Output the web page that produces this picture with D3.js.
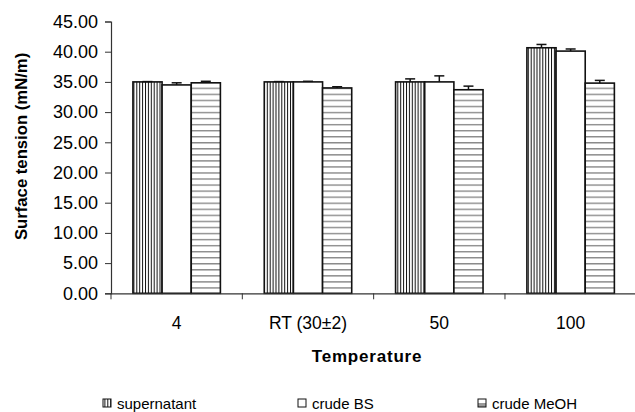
<!DOCTYPE html>
<html>
<head>
<meta charset="utf-8">
<script src="https://cdn.jsdelivr.net/npm/d3@7"></script>
<style>
  html, body { margin: 0; padding: 0; background: #fff; }
  svg { display: block; }
  text { font-family: "Liberation Sans", Arial, sans-serif; fill: #000; }
</style>
</head>
<body>
<svg id="chart" width="635" height="412"></svg>
<script>
const categories = ["4", "RT (30\u00b12)", "50", "100"];
const seriesNames = ["supernatant", "crude BS", "crude MeOH"];
const supernatant = [35.0, 35.0, 35.0, 40.65];
const crudeBS = [34.5, 35.0, 35.0, 40.1];
const crudeMeOH = [34.85, 34.0, 33.7, 34.8];
const supernatantErr = [0.05, 0.05, 0.5, 0.55];
const crudeBSErr = [0.35, 0.1, 1.0, 0.35];
const crudeMeOHErr = [0.25, 0.2, 0.6, 0.45];
const yTicks = [0, 5, 10, 15, 20, 25, 30, 35, 40, 45];

const values = [supernatant, crudeBS, crudeMeOH];
const errs = [supernatantErr, crudeBSErr, crudeMeOHErr];

const svg = d3.select("#chart");
const mLeft = 111, mRight = 636.3, mTop = 21.5, mBottom = 293.3;

const x = d3.scaleBand().domain(categories).range([mLeft, mRight]).padding(0);
const groupFrac = 0.666;
const xs = d3.scaleBand().domain(seriesNames)
  .range([x.bandwidth() * (1 - groupFrac) / 2, x.bandwidth() * (1 + groupFrac) / 2]).padding(0);
const y = d3.scaleLinear().domain([0, 45]).range([mBottom, mTop]);

// patterns
const defs = svg.append("defs");
const pv = defs.append("pattern").attr("id", "pv").attr("patternUnits", "userSpaceOnUse")
  .attr("width", 2.9).attr("height", 10);
pv.append("rect").attr("width", 2.9).attr("height", 10).attr("fill", "#fff");
pv.append("rect").attr("x", 0).attr("width", 1).attr("height", 10).attr("fill", "#111");
const ph = defs.append("pattern").attr("id", "ph").attr("patternUnits", "userSpaceOnUse")
  .attr("width", 10).attr("height", 6.05).attr("y", mBottom);
ph.append("rect").attr("width", 10).attr("height", 6.05).attr("fill", "#fff");
ph.append("rect").attr("y", 0).attr("width", 10).attr("height", 1.4).attr("fill", "#8a8a8a");
const phl = defs.append("pattern").attr("id", "phl").attr("patternUnits", "userSpaceOnUse")
  .attr("width", 10).attr("height", 8).attr("y", 399);
phl.append("rect").attr("width", 10).attr("height", 8).attr("fill", "#fff");
phl.append("rect").attr("y", 4).attr("width", 10).attr("height", 4).attr("fill", "#999");
const fills = ["url(#pv)", "#fff", "url(#ph)"];
const legFills = ["url(#pv)", "#fff", "url(#phl)"];

// axes
const yAxis = d3.axisLeft(y).tickValues(yTicks).tickFormat(d3.format(".2f")).tickSize(6).tickPadding(7);
const gy = svg.append("g").attr("transform", `translate(${mLeft},0)`).call(yAxis);
gy.select(".domain").attr("stroke", "#333").attr("stroke-width", 1.2);
gy.selectAll(".tick line").attr("stroke", "#333");
gy.selectAll("text").style("font-size", "18px").attr("fill", "#000");

// bars
seriesNames.forEach((s, si) => {
  const g = svg.append("g");
  g.selectAll("rect").data(categories).join("rect")
    .attr("x", d => x(d) + xs(s))
    .attr("y", (d, i) => y(values[si][i]))
    .attr("width", xs.bandwidth())
    .attr("height", (d, i) => mBottom - y(values[si][i]))
    .attr("fill", fills[si])
    .attr("stroke", "#111").attr("stroke-width", 1.6);
  const eg = svg.append("g").attr("stroke", "#111").attr("stroke-width", 1.5);
  categories.forEach((c, i) => {
    const cx = x(c) + xs(s) + xs.bandwidth() / 2;
    const v = values[si][i], e = errs[si][i];
    eg.append("line").attr("x1", cx).attr("x2", cx).attr("y1", y(v)).attr("y2", y(v + e));
    eg.append("line").attr("x1", cx - 5).attr("x2", cx + 5).attr("y1", y(v + e)).attr("y2", y(v + e));
  });
});

// x axis
const xAxis = d3.axisBottom(x).tickSize(0).tickPadding(23);
const gx = svg.append("g").attr("transform", `translate(0,${mBottom})`).call(xAxis);
gx.select(".domain").attr("stroke", "#333").attr("stroke-width", 1.2);
gx.selectAll("text").style("font-size", "17.5px").attr("fill", "#000");
const bounds = categories.map(c => x(c));
gx.selectAll(".bound").data(bounds).join("line").attr("class", "bound")
  .attr("x1", d => d).attr("x2", d => d).attr("y1", 0).attr("y2", 6)
  .attr("stroke", "#333");

// axis titles
svg.append("text").attr("transform", `translate(27,${(mTop + mBottom) / 2 - 11}) rotate(-90)`)
  .attr("text-anchor", "middle").style("font-size", "16.7px").style("font-weight", "bold")
  .text("Surface tension (mN/m)");
svg.append("text").attr("x", 367).attr("y", 362).attr("text-anchor", "middle")
  .style("font-size", "17px").style("font-weight", "bold").style("letter-spacing", "0.8px")
  .text("Temperature");

// legend
const legX = [103, 298, 478];
const lg = svg.append("g");
seriesNames.forEach((s, si) => {
  lg.append("rect").attr("x", legX[si]).attr("y", 399).attr("width", 8).attr("height", 8)
    .attr("fill", legFills[si]).attr("stroke", "#111").attr("stroke-width", 1);
  lg.append("text").attr("x", legX[si] + 14).attr("y", 408.5).style("font-size", "15px").text(s);
});
</script>
</body>
</html>
